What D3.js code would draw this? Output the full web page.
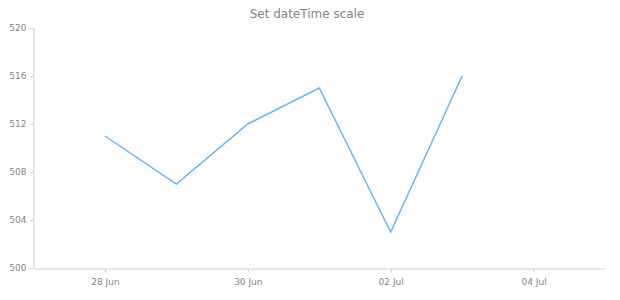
<!DOCTYPE html>
<html>
<head>
<meta charset="utf-8">
<script src="https://cdn.jsdelivr.net/npm/d3@7"></script>
<style>
body { margin: 0; background: #fff; }
text { font-family: "DejaVu Sans", Verdana, sans-serif; }
</style>
</head>
<body>
<div id="chart-area"></div>
<script>
// DATA
const dates = ["2015-06-28", "2015-06-29", "2015-06-30", "2015-07-01", "2015-07-02", "2015-07-03"]
const values = [511, 507, 512, 515, 503, 516]
const xDomain = ["2015-06-27", "2015-07-05"]
const xTicks = ["2015-06-28", "2015-06-30", "2015-07-02", "2015-07-04"]
const yTicks = [500, 504, 508, 512, 516, 520]

const parse = d3.timeParse("%Y-%m-%d")

// SIZE
const AREA_WIDTH = 620
const AREA_HEIGHT = 300
const MARGIN = { LEFT: 33.5, RIGHT: 15, TOP: 28, BOTTOM: 32 }
const WIDTH = AREA_WIDTH - MARGIN.LEFT - MARGIN.RIGHT
const HEIGHT = AREA_HEIGHT - MARGIN.TOP - MARGIN.BOTTOM

const svg = d3.select("#chart-area").append("svg")
	.attr("width", AREA_WIDTH)
	.attr("height", AREA_HEIGHT)

// title
svg.append("text")
	.attr("x", 307)
	.attr("y", 18)
	.attr("text-anchor", "middle")
	.attr("font-size", "12px")
	.attr("fill", "#7c868e")
	.text("Set dateTime scale")

const g = svg.append("g")
	.attr("transform", `translate(${MARGIN.LEFT},${MARGIN.TOP})`)

// SCALES
const x = d3.scaleTime()
	.domain(xDomain.map(parse))
	.range([0, WIDTH])

const y = d3.scaleLinear()
	.domain([500, 520])
	.range([HEIGHT, 0])

// AXES
const xAxisCall = d3.axisBottom(x)
	.tickValues(xTicks.map(parse))
	.tickFormat(d3.timeFormat("%d %b"))
	.tickSizeOuter(0)
	.tickSizeInner(4)
	.tickPadding(6)

const xAxis = g.append("g")
	.attr("transform", `translate(0,${HEIGHT + 0.5})`)
	.call(xAxisCall)

const yAxisCall = d3.axisLeft(y)
	.tickValues(yTicks)
	.tickSizeOuter(0)
	.tickSizeInner(3)
	.tickPadding(4)

const yAxis = g.append("g")
	.call(yAxisCall)

// axis styling
g.selectAll(".domain").attr("stroke", "#cecece")
g.selectAll(".tick line").attr("stroke", "#cecece")
g.selectAll(".tick text")
	.attr("fill", "#7c868e")
	.attr("font-size", "9px")
	.attr("font-family", "'DejaVu Sans', Verdana, sans-serif")

// LINE
const line = d3.line()
	.x((d, i) => x(parse(dates[i])))
	.y(d => y(d))

g.append("path")
	.datum(values)
	.attr("fill", "none")
	.attr("stroke", "#64b5f6")
	.attr("stroke-width", 1.5)
	.attr("d", line)
</script>
</body>
</html>
